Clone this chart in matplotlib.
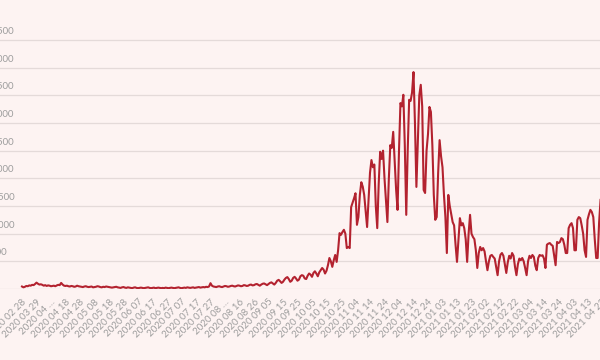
import matplotlib
matplotlib.use("Agg")
import matplotlib.pyplot as plt
import matplotlib.transforms as mtransforms
import numpy as np
import pandas as pd

# daily new cases (first report 2020-02-28, then daily from 2020-03-20)
cases_spring = [45, 30, 40, 55, 50, 65, 60, 75, 70, 90,
                115, 95, 80, 85, 75, 60, 70, 55, 65, 60,
                50, 55, 60, 50, 65, 75, 70, 110, 80, 60,
                55, 60, 50, 45, 55, 50, 40, 45, 60, 50,
                45, 40, 35, 45, 50, 40, 35, 40, 45, 30,
                35, 40, 50, 45, 35, 30, 40, 35, 45, 40]
cases_summer = [35, 30, 25, 30, 35, 40, 30, 25, 20, 30, 35, 25, 20, 30, 25, 20, 15, 25, 30, 20,
                15, 20, 25, 20, 15, 20, 25, 30, 20, 15, 20, 25, 15, 20, 25, 20, 15, 20, 15, 25,
                20, 15, 20, 25, 20, 15, 20, 25, 30, 20, 15, 20, 25, 20, 30, 25, 20, 25, 30, 20,
                25, 30, 35, 25, 30, 35, 30, 40, 35, 45,
                105, 60, 45, 40, 35, 45, 50, 40, 35, 45, 55, 50, 40, 45, 55, 60, 50, 45, 55, 65,
                60, 50, 55, 70, 65, 55, 60, 75, 80, 65]
cases_autumn = [70, 85, 90, 75, 60, 80, 95, 100, 85, 70, 90, 110, 120, 100, 80, 110, 150, 165, 140, 110,
                130, 170, 200, 215, 180, 130, 150, 200, 220, 190, 150, 170, 230, 250, 240, 190, 180, 240, 280, 260,
                220, 290, 320, 280, 230, 300, 340, 380, 350, 280, 330, 430, 560, 500, 400, 520,
                615, 490, 700, 1010, 980, 1030, 1070, 1000, 740, 760, 740, 1480, 1560, 1640, 1730,
                1160, 1300, 1700, 1930, 1850, 1700, 1400, 1120, 1600, 2100, 2330, 2200, 2250, 1500,
                1100, 1900, 2480, 2350, 2500, 2000, 1600, 1210, 2000, 2600, 2550, 2840, 2300, 1800,
                1430, 2500]
cases_winter = [3360, 3300, 3510, 2600, 1340, 2500, 3420, 3400, 3550, 3920, 3000, 1845, 2700, 3500,
                3690, 3300, 1790, 1735, 2500, 2800, 3290, 3200, 2600, 1700, 1250, 1300, 2100, 2690,
                2400, 2200, 1700, 1300, 650, 1700, 1500, 1350, 1210, 1150, 800]
cases_2021 = [490, 900, 1280, 1150, 1190, 1100, 900, 490, 1000, 1340, 1000, 940, 900, 700, 380,
              650, 760, 700, 740, 680, 500, 340, 500, 600, 615, 580, 550, 400, 250, 500, 620, 650,
              600, 450, 290, 480, 600, 550, 650, 600, 400, 250, 450, 550, 520, 560, 500, 380, 250,
              500, 600, 560, 615, 580, 420, 340, 560, 615, 600, 610, 550, 380, 800, 820, 830, 800,
              780, 600, 430, 850, 830, 850, 920, 900, 800, 650, 650, 1100, 1160, 1190, 1100, 700,
              700, 1250, 1300, 1280, 1150, 1000, 700, 580, 1250, 1350, 1430, 1390, 1300, 900, 560,
              560, 1200, 1610]

cases = np.array(cases_spring + cases_summer + cases_autumn + cases_winter + cases_2021)
dates = [pd.Timestamp("2020-02-28")] + list(pd.date_range("2020-03-20", periods=len(cases) + 10))
x = np.arange(len(cases))

tick_idx = np.arange(0, 410, 10)
tick_labels = [dates[i].strftime("%Y %m %d") for i in tick_idx]
tick_labels[2] = "2020 04 \u2026"
tick_labels[14] = "2020 08 \u2026"
y_ticks = np.arange(0, 5000, 500)

bg = "#fdf3f2"
fig = plt.figure(figsize=(6, 3.6), dpi=100, facecolor=bg)
# axes run past the left/right edges, like a cropped screenshot
ax = fig.add_axes([-20 / 600, 71 / 360, 640 / 600, 289 / 360])
ax.set_facecolor(bg)
ax.plot(x, cases, color="#b3222f", lw=1.5, solid_joinstyle="round")

px_per_idx = 1.45
left = -(22 + 20) / px_per_idx
ax.set_xlim(left, left + 640 / px_per_idx)
ax.set_ylim(0, 4500 + 40 / (249 / 4500))

ax.set_xticks(tick_idx)
ax.set_xticklabels(tick_labels, rotation=45, ha="right", va="top",
                   rotation_mode="anchor", fontsize=7, color="#9d9d9d", family="Lato")
ax.tick_params(axis="x", length=0, pad=6)
ax.set_yticks(y_ticks)
ax.set_yticklabels([])
ax.tick_params(axis="y", length=0)
ax.grid(axis="y", color="#e4dad9", lw=0.9)
ax.grid(axis="x", visible=False)
for s in ax.spines.values():
    s.set_visible(False)
ax.set_axisbelow(True)

trans = mtransforms.blended_transform_factory(fig.transFigure, ax.transData)
trans = trans + mtransforms.ScaledTranslation(0, 3 / 72, fig.dpi_scale_trans)
for v in y_ticks:
    ax.text(-10 / 600, v, f"{v:,}", transform=trans, ha="left", va="bottom",
            fontsize=7, color="#9d9d9d", family="Lato", clip_on=False)

fig.savefig("out.png", dpi=100, facecolor=bg)
